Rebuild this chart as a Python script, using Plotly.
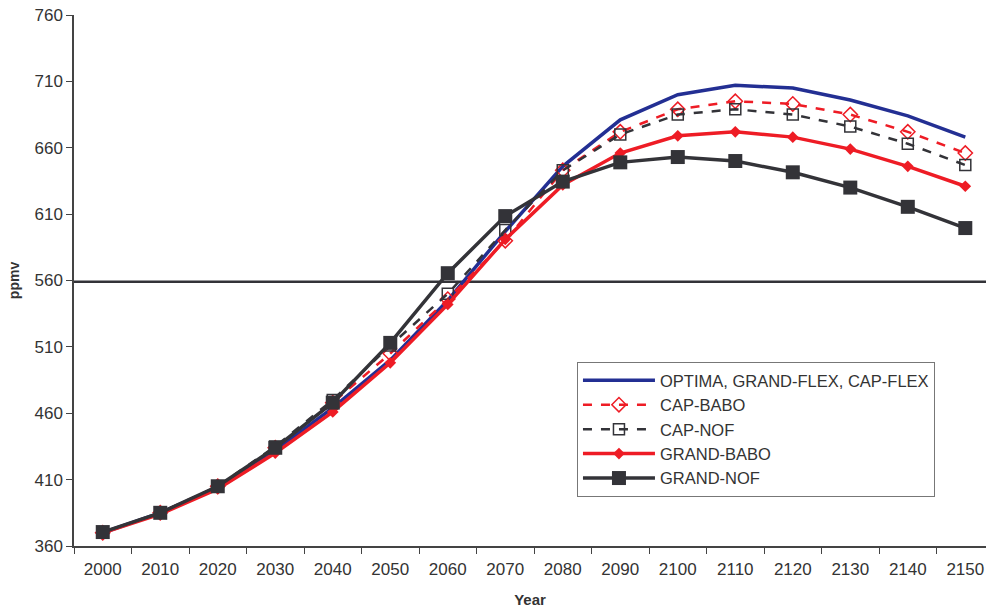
import plotly.graph_objects as go

years = [str(y) for y in range(2000, 2151, 10)]

optima = [370, 385, 404, 432, 464, 500, 545, 597, 646, 681, 700, 707, 705, 696, 684, 668]
cap_babo = [370, 385, 405, 434, 468, 505, 546, 590, 643, 672, 689, 695, 693, 685, 672, 656]
cap_nof = [370, 385, 405, 435, 470, 511, 550, 598, 643, 670, 685, 689, 685, 676, 663, 647]
grand_babo = [370, 384, 403, 430, 461, 498, 542, 591, 632, 656, 669, 672, 668, 659, 646, 631]
grand_nof = [370.5, 385, 405, 434, 468, 513, 565.5, 608.5, 634.5, 649, 653, 650, 641.5, 630, 615.5, 599.5]

threshold = 559

fig = go.Figure()
fig.add_trace(go.Scatter(x=years, y=optima, name="OPTIMA, GRAND-FLEX, CAP-FLEX", mode="lines",
                         line=dict(color="#232F93", width=3.5), legendgroup="a"))
fig.add_trace(go.Scatter(x=years, y=cap_babo, name="CAP-BABO", mode="lines+markers",
                         line=dict(color="#EE1C25", width=2.5, dash="dash"),
                         marker=dict(symbol="diamond-open", size=11, color="#EE1C25", line=dict(width=1.5)),
                         legendgroup="b"))
fig.add_trace(go.Scatter(x=years, y=cap_nof, name="CAP-NOF", mode="lines+markers",
                         line=dict(color="#333338", width=2.5, dash="dash"),
                         marker=dict(symbol="square-open", size=11, color="#333338", line=dict(width=1.5)),
                         legendgroup="c"))
fig.add_trace(go.Scatter(x=years, y=grand_babo, name="GRAND-BABO", mode="lines+markers",
                         line=dict(color="#EE1C25", width=3.5),
                         marker=dict(symbol="diamond", size=9, color="#EE1C25"),
                         legendgroup="d"))
fig.add_trace(go.Scatter(x=years, y=grand_nof, name="GRAND-NOF", mode="lines+markers",
                         line=dict(color="#333338", width=3.5),
                         marker=dict(symbol="square", size=14, color="#333338"),
                         legendgroup="e"))

fig.add_shape(type="line", xref="paper", yref="y", x0=0, x1=1, y0=threshold, y1=threshold,
              line=dict(color="#333338", width=2.5), layer="below")

fig.update_layout(
    width=986, height=608,
    margin=dict(l=74, r=0, t=15, b=62),
    paper_bgcolor="white", plot_bgcolor="white",
    font=dict(family="Liberation Sans, Arial", size=17, color="#333333"),
    showlegend=True,
    legend=dict(x=0.5515, y=0.3465, xanchor="left", yanchor="top",
                bordercolor="#777777", borderwidth=1, bgcolor="white",
                font=dict(size=16.5, color="#333333"), tracegroupgap=0,
                itemwidth=72),
    xaxis=dict(type="category", range=[-0.5, 15.36], showline=True, linecolor="#444444",
               linewidth=1.5, ticks="outside", ticklen=6, tickcolor="#444444",
               tickson="boundaries", showgrid=False, zeroline=False, automargin=False,
               tickfont=dict(size=17), ticklabelstandoff=7, ticklabeloverflow="allow",
               title=dict(text="<b>Year</b>", font=dict(size=15), standoff=16)),
    yaxis=dict(range=[360, 760], tickvals=list(range(360, 761, 50)), showline=True,
               linecolor="#444444", linewidth=1.5, ticks="outside", ticklen=6,
               tickcolor="#444444", showgrid=False, zeroline=False, automargin=False,
               tickfont=dict(size=17), ticklabeloverflow="allow",
               title=dict(text="<b>ppmv</b>", font=dict(size=14), standoff=12)),
)

fig.write_html("out.html", config={"displayModeBar": False},
               post_script="document.body.style.margin='0';document.body.style.overflow='hidden';")
